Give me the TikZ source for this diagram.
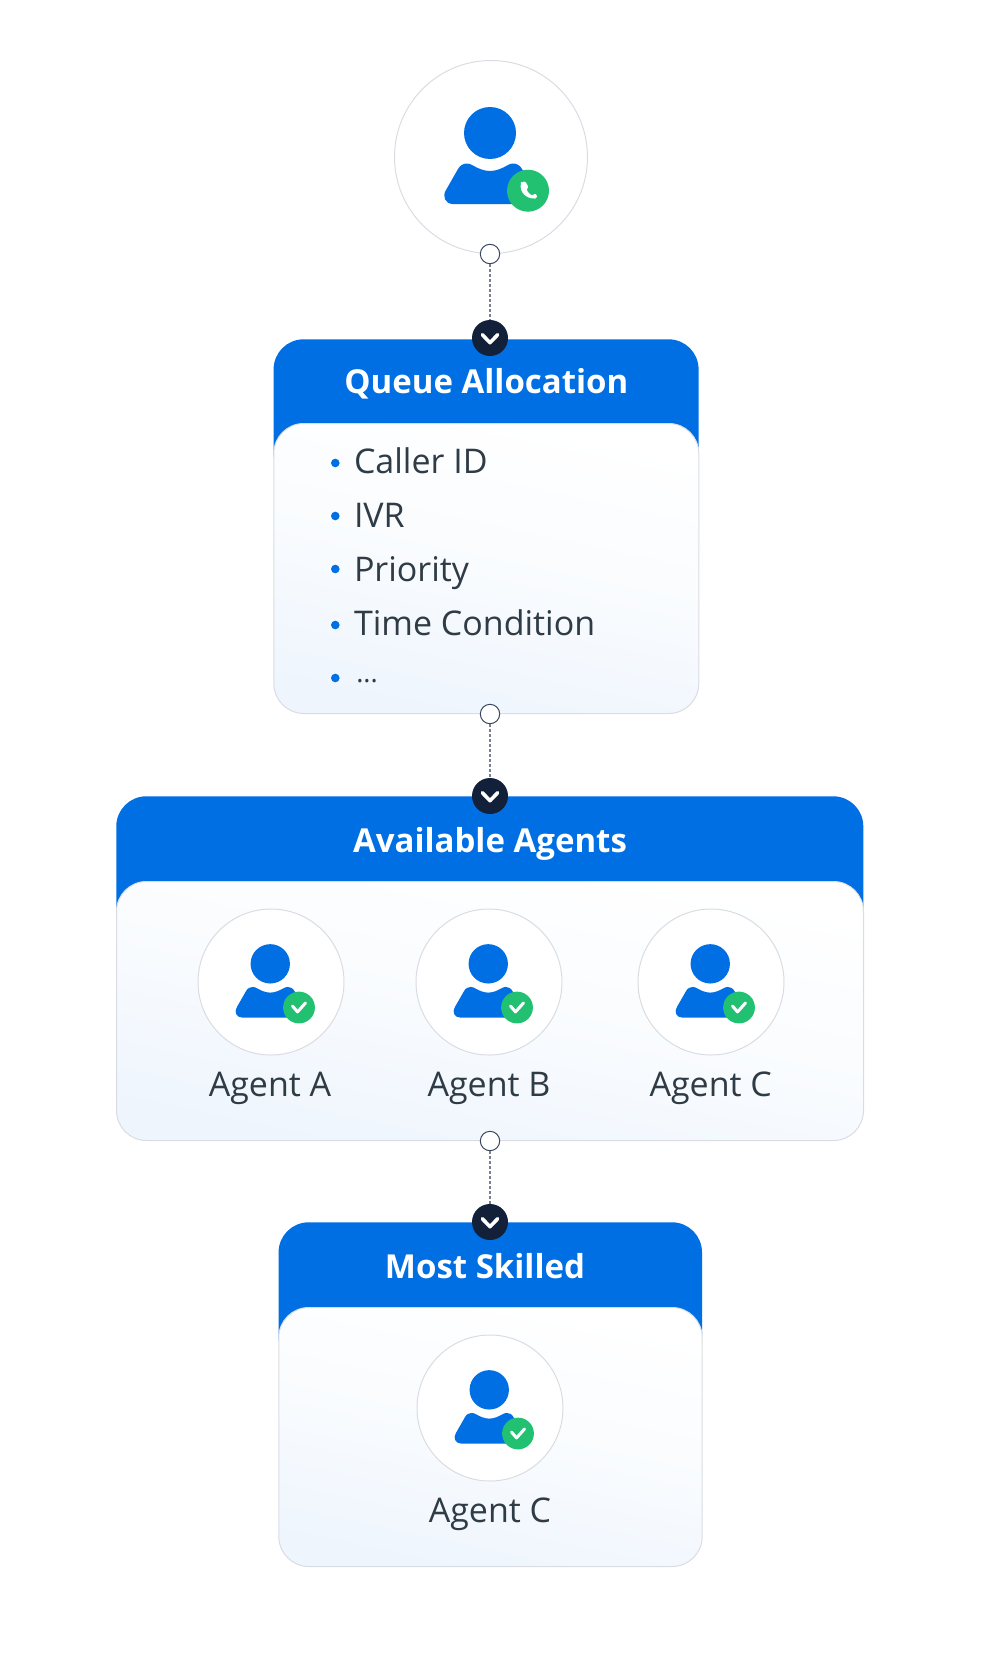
\documentclass[tikz,border=0pt]{standalone}
\usepackage{fontspec}
\setmainfont{Open Sans}
\usetikzlibrary{positioning}

\definecolor{brandblue}{HTML}{006FE3}
\definecolor{okgreen}{HTML}{22C171}
\definecolor{navydot}{HTML}{12203A}
\definecolor{inktext}{HTML}{2F3B45}
\definecolor{softline}{HTML}{D9DDE3}
\definecolor{paleblue}{HTML}{EEF5FD}
\definecolor{ringline}{HTML}{3B4760}
\definecolor{linkgray}{HTML}{7A8090}

\newcommand{\figureshape}{
    \fill[brandblue] (-1,-24) circle (26);
    \fill[brandblue] (-19,8) .. controls (-13,11.5) and (-7,14) .. (-1,14)
        .. controls (5,14) and (11,11.5) .. (17,8)
        .. controls (18,7.5) and (20,6.5) .. (22,6.5)
        .. controls (25,6.5) and (29,8) .. (31,12) -- (43,33)
        .. controls (47,39) and (44,47) .. (36,47) -- (-38,47)
        .. controls (-46,47) and (-49,39) .. (-45,33) -- (-33,12)
        .. controls (-31,8) and (-27,6.5) .. (-24,6.5)
        .. controls (-22,6.5) and (-20,7.5) .. (-19,8) -- cycle;
    \fill[okgreen] (37,33.7) circle (21);
}

\tikzset{
    caller/.pic={
        \figureshape
        \fill[white,rounded corners=1.2] (30,26) -- (34,24) -- (37.5,30) -- (35.5,32.5)
            .. controls (37,35.5) and (39,37.5) .. (41.5,38.5) -- (44,36.5) -- (46,38)
            -- (45.5,41.5) .. controls (35,42) and (28.5,35) .. (30,26) -- cycle;
    },
    agent/.pic={
        \figureshape
        \draw[white,line width=3,line cap=round,line join=round]
            (28.4,31.7) -- (35,39.5) -- (45.6,27.6);
    },
}

\begin{document}
\begin{tikzpicture}[
        x=1pt, y=-1pt, semithick
    ]

    \tikzstyle{avatar} = [circle,draw=softline,fill=white,line width=1,minimum size=146,inner sep=0]
    \tikzstyle{header} = [rectangle,fill=brandblue,rounded corners=30,anchor=north west,inner sep=0]
    \tikzstyle{panel}  = [rectangle,draw=softline,line width=1,rounded corners=30,anchor=north west,inner sep=0,
                          top color=white,bottom color=paleblue,middle color=paleblue!35,shading angle=-12]
    \tikzstyle{title}  = [text=white,font=\fontsize{33}{38}\selectfont\bfseries,anchor=base,inner sep=0]
    \tikzstyle{agentname} = [text=inktext,font=\fontsize{34}{40}\selectfont,anchor=base,inner sep=0]
    \tikzstyle{item}   = [text=inktext,font=\fontsize{34}{40}\selectfont,anchor=base west,inner sep=0]
    \tikzstyle{itemdot} = [circle,fill=brandblue,minimum size=8.6,inner sep=0]
    \tikzstyle{outdot} = [circle,draw=ringline,fill=white,line width=1,minimum size=19.4,inner sep=0]
    \tikzstyle{indot}  = [circle,fill=navydot,minimum size=36,inner sep=0,
        path picture={\draw[white,line width=3.6,line cap=round,line join=round]
            (path picture bounding box.center) ++(-7.7,-3.3) -- ++(7.7,8) -- ++(7.7,-8);}]
    \tikzstyle{link}   = [draw=linkgray,line width=1.5,dash pattern=on 3 off 2]

    \useasboundingbox (0,0) rectangle (980,1659);

    % caller
    \node[avatar,minimum size=193] (caller) at (491,157) {};
    \pic at (caller) {caller};

    % queue allocation
    \node[header,minimum width=425,minimum height=144] (queuehead) at (273.3,339) {};
    \node[panel,minimum width=425,minimum height=290] (queuebody) at (273.3,423) {};
    \node[title] (queuetitle) at (486.4,393.7) {Queue Allocation};
    \node[item] (callerid) at (353.7,473) {Caller ID};
    \node[item] (ivr)      at (353.7,527.4) {IVR};
    \node[item] (priority) at (353.7,581.4) {Priority};
    \node[item] (timecond) at (353.7,635)   {Time Condition};
    \node[item,font=\fontsize{27}{40}\selectfont] (more) at (356,682) {...};
    \node[itemdot] (calleriddot) at (335.3,463) {};
    \node[itemdot] (ivrdot)      at (335.3,516) {};
    \node[itemdot] (prioritydot) at (335.3,569) {};
    \node[itemdot] (timeconddot) at (335.3,625) {};
    \node[itemdot] (moredot)     at (335.3,678) {};

    % available agents
    \node[header,minimum width=747,minimum height=145] (availhead) at (116,796) {};
    \node[panel,minimum width=747,minimum height=259] (availbody) at (116,881) {};
    \node[title] (availtitle) at (490,852.4) {Available Agents};
    \node[avatar] (agenta) at (271,982) {};
    \node[avatar] (agentb) at (489,982) {};
    \node[avatar] (agentc) at (711,982) {};
    \pic[scale=0.757] at (agenta) {agent};
    \pic[scale=0.757] at (agentb) {agent};
    \pic[scale=0.757] at (agentc) {agent};
    \node[agentname] (agentaname) at (270,1096) {Agent A};
    \node[agentname] (agentbname) at (489,1096) {Agent B};
    \node[agentname] (agentcname) at (710.7,1096) {Agent C};

    % most skilled
    \node[header,minimum width=423.4,minimum height=145] (skillhead) at (278.3,1222) {};
    \node[panel,minimum width=423.4,minimum height=259] (skillbody) at (278.3,1307) {};
    \node[title] (skilltitle) at (485,1278) {Most Skilled};
    \node[avatar] (best) at (490,1408) {};
    \pic[scale=0.757] at (best) {agent};
    \node[agentname] (bestname) at (490,1522) {Agent C};

    % links
    \node[outdot] (out1) at (490,254)  {};
    \node[indot]  (in1)  at (490,338)  {};
    \node[outdot] (out2) at (490,714)  {};
    \node[indot]  (in2)  at (490,796)  {};
    \node[outdot] (out3) at (490,1141) {};
    \node[indot]  (in3)  at (490,1222) {};

    \path[link] (out1) -- (in1);
    \path[link] (out2) -- (in2);
    \path[link] (out3) -- (in3);

\end{tikzpicture}
\end{document}
